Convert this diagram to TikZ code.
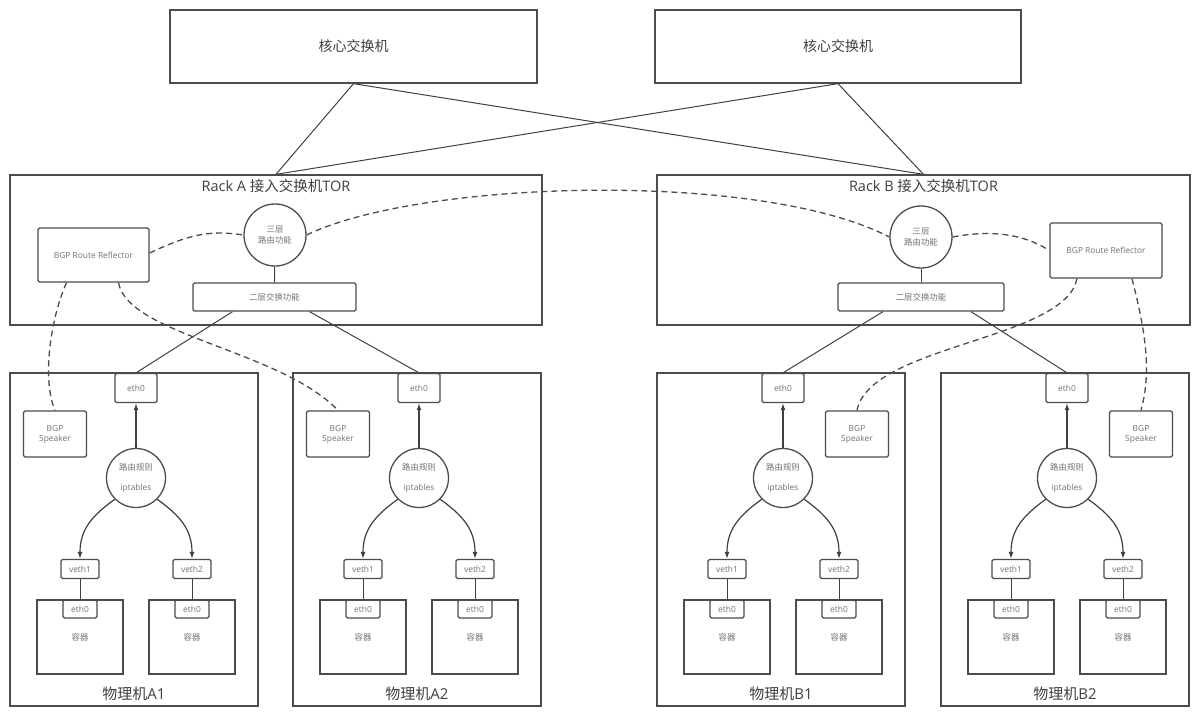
\documentclass[tikz,border=0pt]{standalone}
\usepackage{fontspec}
\setmainfont{Open Sans}
\newfontfamily\cjk{Noto Sans CJK SC}
\usetikzlibrary{arrows.meta}

\begin{document}
\begin{tikzpicture}[x=1pt,y=-1pt,
    frame/.style={draw=black!70,line width=1.3pt,inner sep=0pt},
    box/.style={draw=black!70,line width=1.3pt,rounded corners=1.5pt,inner sep=0pt,
      font=\fontsize{8.4}{10}\selectfont,text=black!55,align=center},
    ring/.style={circle,draw=black!70,line width=1.3pt,inner sep=0pt,minimum size=62pt,
      font=\fontsize{8.4}{10.5}\selectfont,text=black!55,align=center},
    title/.style={font=\fontsize{14}{16}\selectfont,text=black!75},
    link/.style={draw=black!75,line width=1pt},
    bgp/.style={draw=black!70,line width=1.3pt,dash pattern=on 6pt off 4pt},
    flow/.style={draw=black!75,line width=1.2pt,-{Latex[length=7pt,width=5pt]}}]
    \path[use as bounding box,fill=white] (0,0) rectangle (1200,717);
    % core switches
    \node[frame,title,minimum width=367pt,minimum height=73pt] (coreL) at (353.5,46.5) {\cjk 核心交换机};
    \node[frame,title,minimum width=366pt,minimum height=73pt] (coreR) at (838,46.5)   {\cjk 核心交换机};
    % racks
    \node[frame,minimum width=532pt,minimum height=150pt] (rackA) at (276,250)   {};
    \node[frame,minimum width=533pt,minimum height=150pt] (rackB) at (923.5,250) {};
    \node[title,font=\fontsize{14.5}{16}\selectfont] (rackAt) at (276,186)   {Rack A {\cjk 接入交换机}TOR};
    \node[title,font=\fontsize{14.5}{16}\selectfont] (rackBt) at (923.5,186) {Rack B {\cjk 接入交换机}TOR};
    \node[box,minimum width=111pt,minimum height=54pt]  (rrA) at (93.5,255)  {BGP Route Reflector};
    \node[ring]                                         (l3A) at (275,235)   {\cjk 三层\\\cjk 路由功能};
    \node[box,minimum width=163pt,minimum height=28pt]  (l2A) at (274.5,297)  {\cjk 二层交换功能};
    \node[ring]                                         (l3B) at (921,237)   {\cjk 三层\\\cjk 路由功能};
    \node[box,minimum width=166pt,minimum height=28pt]  (l2B) at (921,297)    {\cjk 二层交换功能};
    \node[box,minimum width=112pt,minimum height=55pt]  (rrB) at (1106,250.5) {BGP Route Reflector};
    % hosts
    \foreach \h/\x/\s in {A1/10/45, A2/293/45, B1/657/200, B2/941/200} {
      \node[frame,minimum width=248pt,minimum height=333pt] (host\h) at (\x+124,539.5) {};
      \node[title,font=\fontsize{15}{17}\selectfont] (hostt\h) at (\x+124,694) {{\cjk 物理机}\h};
      \node[box,minimum width=42pt,minimum height=29pt] (eth\h)  at (\x+126,388) {eth0};
      \node[box,minimum width=63pt,minimum height=46pt] (spk\h)  at (\x+\s,434)  {BGP\\Speaker};
      \node[ring,minimum size=59pt,font=\fontsize{8.4}{20}\selectfont] (rule\h) at (\x+126,478) {\cjk 路由规则\\iptables};
      \node[box,minimum width=38pt,minimum height=19pt] (vethL\h) at (\x+70,569)  {veth1};
      \node[box,minimum width=38pt,minimum height=19pt] (vethR\h) at (\x+182,569) {veth2};
      \node[frame,minimum width=86pt,minimum height=74pt,font=\fontsize{8.4}{9}\selectfont\cjk,text=black!55] (podL\h) at (\x+70,637)  {容器};
      \node[frame,minimum width=86pt,minimum height=74pt,font=\fontsize{8.4}{9}\selectfont\cjk,text=black!55] (podR\h) at (\x+182,637) {容器};
      \node[box,minimum width=34pt,minimum height=18pt] (podethL\h) at (\x+70,609)  {eth0};
      \node[box,minimum width=34pt,minimum height=18pt] (podethR\h) at (\x+182,609) {eth0};
      \draw[flow] (rule\h.north) -- (eth\h.south);
      \draw[flow] (rule\h.225) .. controls +(-22,16) and +(0,-30) .. (vethL\h.north);
      \draw[flow] (rule\h.-45) .. controls +(22,16) and +(0,-30) .. (vethR\h.north);
      \draw[link] (vethL\h) -- (podethL\h);
      \draw[link] (vethR\h) -- (podethR\h);
    }
    % uplinks
    \draw[link] (coreL.south) -- (rackA.north);
    \draw[link] (coreL.south) -- (rackB.north);
    \draw[link] (coreR.south) -- (rackA.north);
    \draw[link] (coreR.south) -- (rackB.north);
    \draw[link] (l3A) -- (l2A);
    \draw[link] (l3B) -- (l2B);
    \draw[link] ([xshift=-42pt]l2A.south) -- (ethA1.north);
    \draw[link] ([xshift=35pt]l2A.south)  -- (ethA2.north);
    \draw[link] ([xshift=-38pt]l2B.south) -- (ethB1.north);
    \draw[link] ([xshift=50pt]l2B.south)  -- (ethB2.north);
    % BGP sessions
    \draw[bgp] ([xshift=-27pt]rrA.south) .. controls (50,320) and (42,380) .. (spkA1.north);
    \draw[bgp] ([xshift=25pt]rrA.south) .. controls (128,335) and (280,350) .. (spkA2.north);
    \draw[bgp] ([yshift=2pt]rrA.east) .. controls (190,234) and (210,230) .. (l3A.west);
    \draw[bgp] (l3A.east) .. controls (420,180) and (760,170) .. (l3B.west);
    \draw[bgp] (l3B.east) .. controls (1000,228) and (1030,238) .. (rrB.west);
    \draw[bgp] ([xshift=-29pt]rrB.south) .. controls (1065,340) and (870,345) .. (spkB1.north);
    \draw[bgp] ([xshift=26pt]rrB.south) .. controls (1145,330) and (1152,370) .. (spkB2.north);
\end{tikzpicture}
\end{document}
